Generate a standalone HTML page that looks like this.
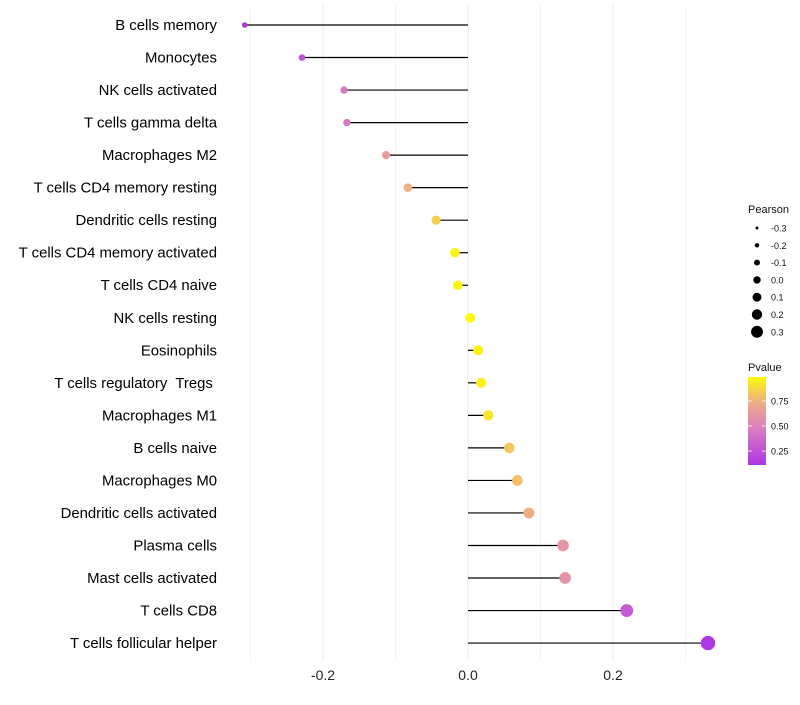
<!DOCTYPE html>
<html><head><meta charset="utf-8"><style>
body{margin:0;background:#fff;font-family:"Liberation Sans",sans-serif}
text{white-space:pre}
</style></head><body>
<svg id="chart" width="800" height="700" xmlns="http://www.w3.org/2000/svg"></svg>
<script>
const categories=["B cells memory","Monocytes","NK cells activated","T cells gamma delta","Macrophages M2","T cells CD4 memory resting","Dendritic cells resting","T cells CD4 memory activated","T cells CD4 naive","NK cells resting","Eosinophils","T cells regulatory  Tregs ","Macrophages M1","B cells naive","Macrophages M0","Dendritic cells activated","Plasma cells","Mast cells activated","T cells CD8","T cells follicular helper"];
const pearson=[-0.308,-0.229,-0.171,-0.167,-0.113,-0.083,-0.044,-0.018,-0.014,0.003,0.014,0.018,0.028,0.057,0.068,0.084,0.131,0.134,0.219,0.331];
const pvalue=[0.12,0.25,0.45,0.45,0.65,0.75,0.85,0.96,0.97,0.99,0.97,0.95,0.92,0.82,0.8,0.74,0.6,0.6,0.3,0.12];
const xTicks=[-0.2,0,0.2];
const xTickLabels=["-0.2","0.0","0.2"];
const legendSizes=[-0.3,-0.2,-0.1,0.0,0.1,0.2,0.3];
const legendSizeLabels=["-0.3","-0.2","-0.1","0.0","0.1","0.2","0.3"];
const cbTicks=[0.75,0.5,0.25];
const cbTickLabels=["0.75","0.50","0.25"];

const svg=document.getElementById('chart');
const NS='http://www.w3.org/2000/svg';
function mk(tag,attrs,parent){const e=document.createElementNS(NS,tag);for(const k in attrs)e.setAttribute(k,attrs[k]);(parent||svg).appendChild(e);return e;}
const x=v=>468+v*725;
const y=i=>25+i*32.53;
const r=v=>4.9+v*7;
const rl=v=>3.7+v*7.5;
function lerp(a,b,t){return Math.round(a+(b-a)*t);}
const stops=[[0,[160,32,240]],[0.5,[222,130,190]],[0.75,[240,175,130]],[1,[255,255,0]]];
function col(p){p=Math.max(0,Math.min(1,p));for(let i=1;i<stops.length;i++){if(p<=stops[i][0]){const[a,ca]=stops[i-1],[b,cb]=stops[i];const t=(p-a)/(b-a);return `rgb(${lerp(ca[0],cb[0],t)},${lerp(ca[1],cb[1],t)},${lerp(ca[2],cb[2],t)})`;}}return 'rgb(255,255,0)';}

for(let v=-0.3;v<=0.31;v+=0.1){
  const g=mk('line',{x1:x(v),x2:x(v),y1:5,y2:660,stroke:'#ebebeb','stroke-width':Math.abs(Math.round(v*10))%2===0?1:0.6});
  
  
}
xTicks.forEach((v,i)=>{
  const t=mk('text',{x:x(v),y:680,'text-anchor':'middle','font-size':14,fill:'#222'});
  t.textContent=xTickLabels[i];
  
  
});
categories.forEach((c,i)=>{
  const t=mk('text',{x:217,y:y(i)+5,'text-anchor':'end','font-size':14.9,fill:'#000'});
  t.textContent=c;
  
  
  const l=mk('line',{x1:x(0),x2:x(pearson[i]),y1:y(i),y2:y(i),stroke:'#000','stroke-width':1.2});
  
  
  const p=mk('circle',{cx:x(pearson[i]),cy:y(i),r:r(pearson[i]),fill:col(pvalue[i])});
  
  
});
const lt=mk('text',{x:748,y:213,'font-size':11,fill:'#111'});lt.textContent='Pearson';


legendSizes.forEach((v,i)=>{
  const cy=228+i*17.3;
  const c=mk('circle',{cx:757,cy:cy,r:rl(v),fill:'#000'});
  
  
  const t=mk('text',{x:771,y:cy+3.5,'font-size':9,fill:'#111'});t.textContent=legendSizeLabels[i];
  
  
});
const ct=mk('text',{x:748,y:371,'font-size':11,fill:'#111'});ct.textContent='Pvalue';


const defs=mk('defs',{});
const grad=mk('linearGradient',{id:'cg',x1:0,y1:1,x2:0,y2:0},defs);
const pTop=0.99,pBot=0.11;
for(let k=0;k<=10;k++){const p=pBot+(pTop-pBot)*k/10;mk('stop',{offset:k/10,'stop-color':col(p)},grad);}
const cb=mk('rect',{x:748,y:377,width:18,height:88,fill:'url(#cg)'});


const cy=p=>377+(pTop-p)/(pTop-pBot)*88;
cbTicks.forEach((p,i)=>{
  mk('line',{x1:748,x2:752,y1:cy(p),y2:cy(p),stroke:'#fff','stroke-width':0.8});
  mk('line',{x1:762,x2:766,y1:cy(p),y2:cy(p),stroke:'#fff','stroke-width':0.8});
  const t=mk('text',{x:771,y:cy(p)+3.5,'font-size':9,fill:'#111'});t.textContent=cbTickLabels[i];
  
  
});
</script>
</body></html>
